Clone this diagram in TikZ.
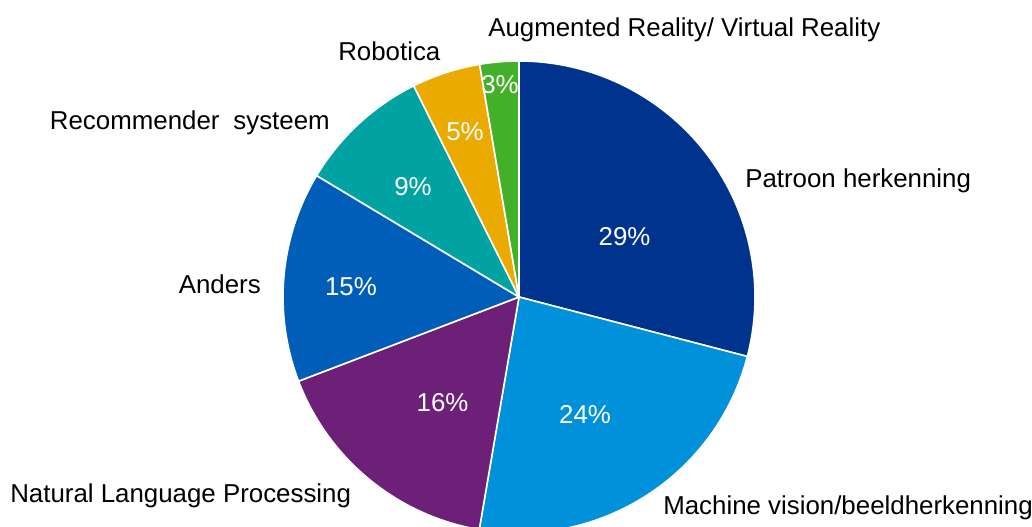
\documentclass[tikz,border=0pt]{standalone}
\usepackage{fontspec}
\setmainfont{Liberation Sans}
\definecolor{cPat}{HTML}{00338D}
\definecolor{cMach}{HTML}{0091DA}
\definecolor{cNLP}{HTML}{6D2077}
\definecolor{cAnd}{HTML}{005EB8}
\definecolor{cRec}{HTML}{00A3A1}
\definecolor{cRob}{HTML}{EAAA00}
\definecolor{cAR}{HTML}{43B02A}
\begin{document}
\begin{tikzpicture}[x=0.75pt,y=-0.75pt,
  lbl/.style={font=\fontsize{19.4}{22}\selectfont, inner sep=0pt, text=black},
  pct/.style={font=\fontsize{19.4}{22}\selectfont, inner sep=0pt, text=white},
  slice/.style={draw=white, line width=1.2pt, line join=round}]
\useasboundingbox (0,0) rectangle (1032,527);
\begin{scope}
\clip (0,0) rectangle (1032,527);
\begin{scope}[shift={(519,297)}, x=0.75pt, y=0.75pt]
\foreach \a/\b/\c in {0/104.6/cPat, 104.6/189.7/cMach, 189.7/249.1/cNLP, 249.1/300.96/cAnd, 300.96/333.5/cRec, 333.5/350.4/cRob, 350.4/360/cAR}
  \filldraw[slice, fill=\c] (0,0) -- ({90-\a}:236) arc[start angle={90-\a}, end angle={90-\b}, radius=236] -- cycle;
\end{scope}
\end{scope}
% category labels
\node[lbl, anchor=base west] (lAR) at (488,37) {Augmented Reality/ Virtual Reality};
\node[lbl, anchor=base west] (lRob) at (338,61) {Robotica};
\node[lbl, anchor=base east] (lRec) at (330,130) {Recommender\hspace{5pt} systeem};
\node[lbl, anchor=base east] (lAnd) at (261,294) {Anders};
\node[lbl, anchor=base west] (lNLP) at (10,502) {Natural Language Processing};
\node[lbl, anchor=base west] (lPat) at (745,188) {Patroon herkenning};
\node[lbl, anchor=base west] (lMach) at (663,514) {Machine vision/beeldherkenning};
% percentages
\node[pct] (pPat) at (624.5,237) {29\%};
\node[pct] (pMach) at (585,414.5) {24\%};
\node[pct] (pNLP) at (442.5,403) {16\%};
\node[pct] (pAnd) at (351,287) {15\%};
\node[pct] (pRec) at (413,187) {9\%};
\node[pct] (pRob) at (465,132) {5\%};
\node[pct] (pAR) at (500,85) {3\%};
\end{tikzpicture}
\end{document}
